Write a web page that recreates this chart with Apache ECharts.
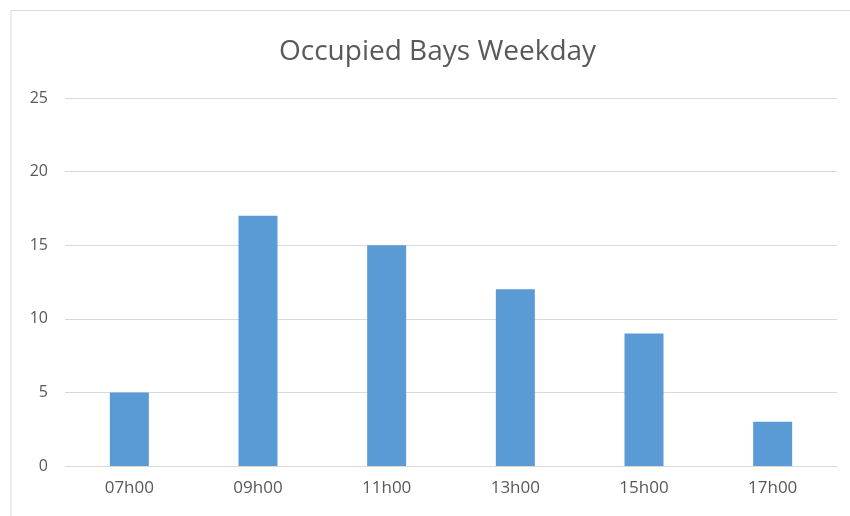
<!DOCTYPE html>
<html>
<head>
<meta charset="utf-8">
<script src="https://cdn.jsdelivr.net/npm/echarts@6/dist/echarts.min.js"></script>
<style>
  html, body { margin: 0; padding: 0; background: #fff; }
  #chart { width: 850px; height: 516px; }
</style>
</head>
<body>
<div id="chart"></div>
<script>
  const categories = ["07h00", "09h00", "11h00", "13h00", "15h00", "17h00"];
  const occupied = [5, 17, 15, 12, 9, 3];
  const yTicks = { min: 0, max: 25, interval: 5 };

  const chart = echarts.init(document.getElementById("chart"));
  const option = {
    backgroundColor: "#fff",
    animation: false,
    title: {
      text: "Occupied Bays Weekday",
      left: 274,
      top: 33,
      textStyle: {
        fontFamily: "Open Sans",
        fontWeight: "normal",
        fontSize: 28,
        color: "#595959",
      },
    },
    graphic: [
      {
        type: "polyline",
        shape: { points: [[11, 516], [11, 10.5], [850, 10.5]] },
        style: { stroke: "#d9d9d9", lineWidth: 1, fill: null },
      },
    ],
    grid: { left: 65, right: 13, top: 98, bottom: 50 },
    xAxis: {
      type: "category",
      data: categories,
      axisLine: { lineStyle: { color: "#d9d9d9" } },
      axisTick: { show: false },
      axisLabel: {
        color: "#595959",
        fontFamily: "Open Sans",
        fontSize: 17,
        margin: 14,
      },
    },
    yAxis: {
      type: "value",
      min: yTicks.min,
      max: yTicks.max,
      interval: yTicks.interval,
      axisLine: { show: false },
      axisTick: { show: false },
      splitLine: { lineStyle: { color: "#d9d9d9" } },
      axisLabel: {
        color: "#595959",
        fontFamily: "Open Sans",
        fontSize: 16,
        margin: 17,
      },
    },
    series: [
      {
        type: "bar",
        data: occupied,
        barWidth: 39,
        itemStyle: { color: "#5b9bd5" },
      },
    ],
  };
  chart.setOption(option);
</script>
</body>
</html>
